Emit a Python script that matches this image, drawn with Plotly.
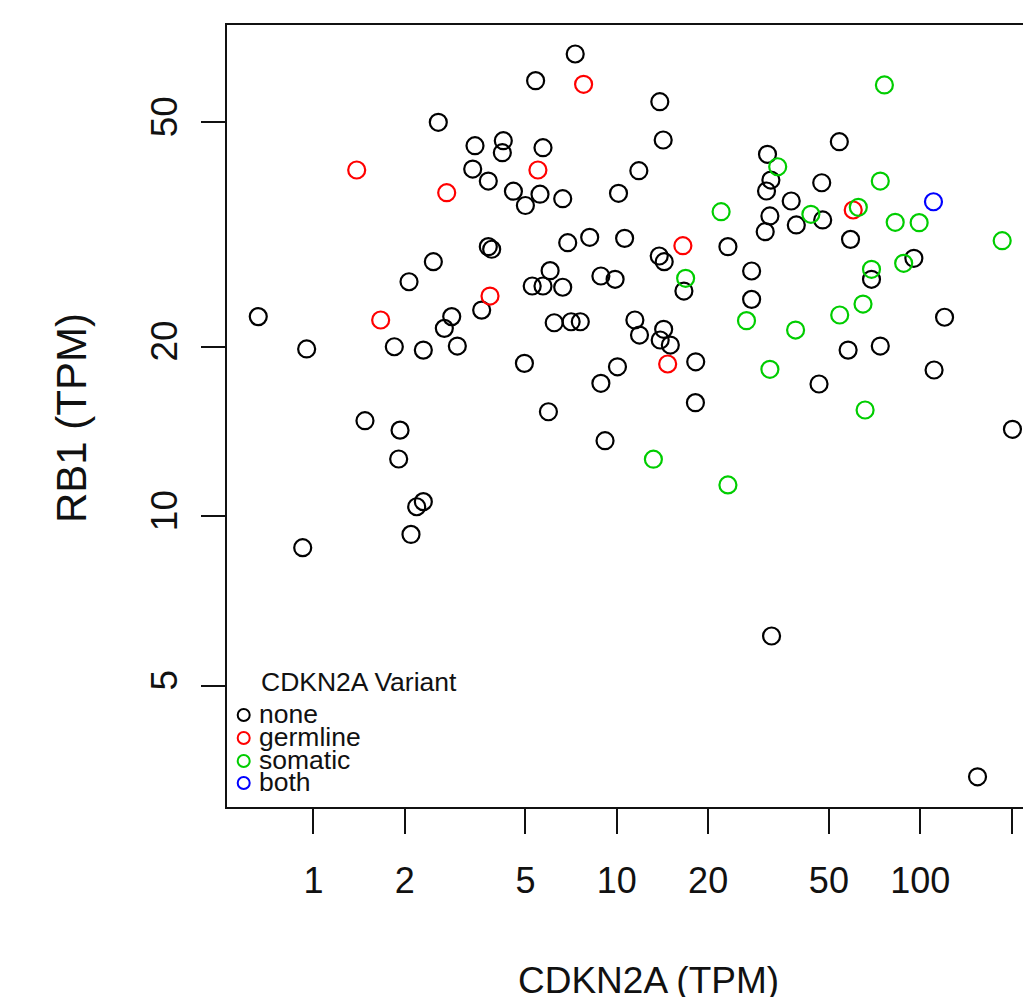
import plotly.graph_objects as go

# ---- data (TPM values) ----
categories = ["none", "germline", "somatic", "both"]
colors = ["#000000", "#FF0000", "#00CD00", "#0000FF"]

none_x = [0.658, 0.950, 0.922, 1.479, 1.930, 1.910, 2.066, 2.097, 2.303, 2.190,
          2.485, 2.580, 2.701, 2.857, 2.981, 1.848, 2.303, 3.409, 4.226, 4.195,
          3.350, 3.771, 3.771, 3.869, 3.586, 4.563, 4.997, 5.583, 6.633, 7.293,
          5.400, 13.86, 14.22, 5.711, 11.82, 31.38, 54.13, 47.36, 32.20, 31.15,
          37.57, 47.71, 39.05, 31.96, 30.84, 10.13, 58.93, 246.4, 6.890, 8.141,
          10.61, 23.24, 13.80, 14.33, 6.028, 5.262, 5.711, 6.633, 8.862, 9.872,
          16.64, 27.82, 27.82, 69.1, 95.3, 120.3, 6.218, 7.070, 7.580, 11.47,
          11.88, 14.27, 13.90, 15.01, 57.86, 73.86, 4.960, 10.05, 8.862, 18.20,
          46.40, 111.1, 5.951, 18.16, 9.145, 201.4, 32.37, 154.5]
none_y = [22.6, 19.8, 8.79, 14.77, 14.21, 12.63, 26.06, 9.28, 10.61, 10.39,
          28.29, 50.0, 21.54, 22.6, 20.04, 19.98, 19.71, 45.44, 46.38, 44.16,
          41.31, 39.33, 30.08, 29.76, 23.21, 37.73, 35.59, 37.27, 36.59, 66.1,
          59.28, 54.39, 46.51, 45.07, 41.03, 43.87, 46.19, 39.06, 39.49, 37.76,
          36.25, 33.55, 32.87, 34.10, 31.98, 37.41, 30.99, 29.46, 30.57, 31.25,
          31.12, 30.08, 28.95, 28.29, 27.27, 25.61, 25.61, 25.48, 26.68, 26.32,
          25.09, 27.23, 24.25, 26.32, 28.68, 22.54, 22.04, 22.13, 22.13, 22.29,
          20.96, 21.46, 20.54, 20.12, 19.71, 20.04, 18.67, 18.41, 17.21, 18.79,
          17.16, 18.17, 15.32, 15.90, 13.61, 14.26, 6.126, 3.446]

germline_x = [1.389, 2.750, 3.820, 1.666, 7.772, 5.495, 16.51, 14.71, 60.15]
germline_y = [41.15, 37.50, 24.58, 22.29, 58.41, 41.15, 30.20, 18.62, 34.94]

somatic_x = [76.2, 33.91, 73.86, 62.52, 22.07, 43.62, 82.72, 99.2, 186.3, 16.86,
             69.1, 88.2, 64.79, 54.29, 26.76, 38.84, 31.96, 65.82, 13.20, 23.24]
somatic_y = [58.25, 41.70, 39.33, 35.33, 34.70, 34.33, 33.23, 33.18, 30.82, 26.43,
             27.42, 28.10, 23.79, 22.75, 22.23, 21.39, 18.22, 15.43, 12.62, 11.36]

both_x = [110.6]
both_y = [36.14]

x_tickvals = [1, 2, 5, 10, 20, 50, 100, 200]
x_ticktext = ["1", "2", "5", "10", "20", "50", "100", ""]
y_tickvals = [5, 10, 20, 50]
y_ticktext = ["5", "10", "20", "50"]

series = [(none_x, none_y), (germline_x, germline_y), (somatic_x, somatic_y), (both_x, both_y)]

FONT = "Liberation Sans, Arial, Helvetica, sans-serif"
OFF = 8  # default page body margin
W, H = 1031 - OFF, 997 - OFF
ML, MT = 227 - OFF, 25 - OFF
PLOT_BOTTOM = 807 - OFF
MR = 0
MB = H - PLOT_BOTTOM

fig = go.Figure()
for name, col, (xs, ys) in zip(categories, colors, series):
    fig.add_trace(go.Scatter(
        x=xs, y=ys, mode="markers", name=name, showlegend=False,
        marker=dict(symbol="circle-open", size=17, color=col, line=dict(width=2.2, color=col)),
        cliponaxis=True,
    ))

fig.update_xaxes(
    type="log", range=[-0.2848, 2.3652],
    tickvals=x_tickvals, ticktext=x_ticktext,
    ticks="outside", ticklen=25, tickwidth=2, tickcolor="#111",
    showline=True, linewidth=2, linecolor="#111", mirror=True,
    showgrid=False, zeroline=False,
    tickfont=dict(family=FONT, size=36, color="#111"),
    ticklabelstandoff=16,
)
fig.update_yaxes(
    type="log", range=[0.4837, 1.8717],
    tickvals=y_tickvals, ticktext=y_ticktext,
    ticks="outside", ticklen=24, tickwidth=2, tickcolor="#111",
    showline=True, linewidth=2, linecolor="#111", mirror=False,
    showgrid=False, zeroline=False, tickangle=-90,
    tickfont=dict(family=FONT, size=37, color="#111"),
    ticklabelstandoff=9,
)

pw = W - ML - MR
ph = H - MT - MB

def px_x(p):  # viewport pixel -> paper fraction
    return (p - OFF - ML) / pw

def px_y(p):
    return (PLOT_BOTTOM - (p - OFF)) / ph

annotations = [
    dict(text="CDKN2A (TPM)", x=px_x(648), y=px_y(980), xref="paper", yref="paper",
         xanchor="center", yanchor="middle", showarrow=False,
         font=dict(family=FONT, size=37, color="#111")),
    dict(text="RB1 (TPM)", x=px_x(72), y=px_y(418), xref="paper", yref="paper",
         xanchor="center", yanchor="middle", showarrow=False, textangle=-90,
         font=dict(family=FONT, size=42, color="#111")),
    dict(text="CDKN2A Variant", x=px_x(260), y=px_y(682), xref="paper", yref="paper",
         xanchor="left", yanchor="middle", showarrow=False, borderpad=0,
         font=dict(family=FONT, size=26.5, color="#111")),
]
shapes = []
legend_rows = [715, 738, 761, 783]
for name, col, ry in zip(categories, colors, legend_rows):
    annotations.append(dict(text=name, x=px_x(258), y=px_y(ry - 1), xref="paper", yref="paper",
                            xanchor="left", yanchor="middle", showarrow=False, borderpad=0,
                            font=dict(family=FONT, size=26.5, color="#111")))
    shapes.append(dict(type="circle", xref="paper", yref="paper",
                       xsizemode="pixel", ysizemode="pixel",
                       xanchor=px_x(243.7), yanchor=px_y(ry),
                       x0=-6, x1=6, y0=-6, y1=6,
                       line=dict(color=col, width=2), fillcolor="rgba(0,0,0,0)"))

fig.update_layout(
    width=W, height=H, autosize=False,
    margin=dict(l=ML, r=MR, t=MT, b=MB, pad=0),
    paper_bgcolor="white", plot_bgcolor="white",
    annotations=annotations, shapes=shapes,
    showlegend=False,
)

fig.write_html("out.html")
